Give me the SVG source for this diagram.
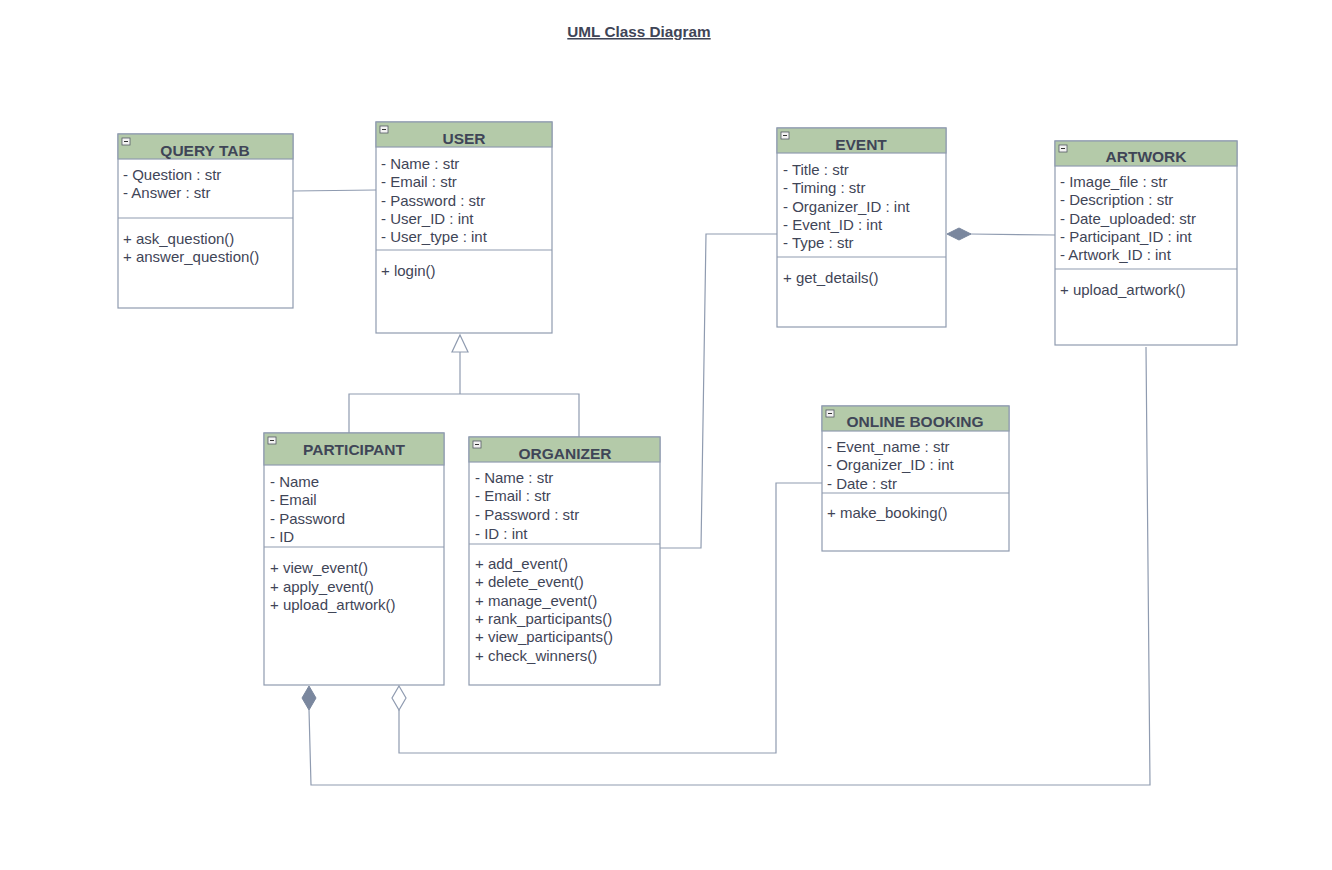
<svg xmlns="http://www.w3.org/2000/svg" width="1332" height="870" viewBox="0 0 1332 870">
  <style>
    .box { fill: #ffffff; stroke: #8f9bb0; stroke-width: 1.2; }
    .head { fill: #b4caa9; stroke: #8f9bb0; stroke-width: 1.2; }
    .sep { stroke: #8f9bb0; stroke-width: 1.2; }
    .icon { fill: #f2f2f2; stroke: #555b66; stroke-width: 0.8; }
    .iconbar { stroke: #333; stroke-width: 1; }
    .title { font-family: "Liberation Sans", Arial, sans-serif; font-size: 15.5px; font-weight: bold; fill: #3f4557; text-anchor: middle; }
    .txt { font-family: "Liberation Sans", Arial, sans-serif; font-size: 15px; fill: #3f4557; }
    .conn { fill: none; stroke: #8f9bb0; stroke-width: 1.2; }
    .dfill { fill: #7a879e; stroke: #7a879e; stroke-width: 1; }
    .dopen { fill: #ffffff; stroke: #8f9bb0; stroke-width: 1.2; }
    .doc { font-family: "Liberation Sans", Arial, sans-serif; font-size: 15.3px; font-weight: bold; fill: #3f4557; text-anchor: middle; text-decoration: underline; }
  </style>

  <rect width="1332" height="870" fill="#ffffff"/>

  <text class="doc" x="639" y="37">UML Class Diagram</text>

  <!-- Connectors -->
  <g id="connectors">
    <!-- QUERY TAB — USER association -->
    <line class="conn" x1="293" y1="191" x2="376" y2="190"/>
    <!-- generalization: PARTICIPANT / ORGANIZER → USER -->
    <polyline class="conn" points="349,433 349,394 579,394 579,437"/>
    <line class="conn" x1="460" y1="394" x2="460" y2="352"/>
    <polygon class="dopen" points="460,335 468,352 452,352"/>
    <!-- ORGANIZER — EVENT -->
    <polyline class="conn" points="660,548 701,548 706,234 777,234"/>
    <!-- EVENT ◆— ARTWORK -->
    <line class="conn" x1="970" y1="234" x2="1055" y2="235"/>
    <polygon class="dfill" points="947,234 959,228 971,234 959,240"/>
    <!-- ARTWORK — PARTICIPANT (composition) -->
    <polyline class="conn" points="1146,347 1150,785 311,785 309,710"/>
    <polygon class="dfill" points="309,686 316,698 309,710 302,698"/>
    <!-- ONLINE BOOKING — PARTICIPANT (aggregation) -->
    <polyline class="conn" points="822,483 776,483 776,753 399,753 399,710"/>
    <polygon class="dopen" points="399,686 406,698 399,710 392,698"/>
  </g>

  <!-- QUERY TAB -->
  <g id="querytab">
    <rect class="box" x="118" y="134" width="175" height="174"/>
    <rect class="head" x="118" y="134" width="175" height="25"/>
    <rect class="icon" x="122" y="138" width="8" height="7"/>
    <line class="iconbar" x1="124" y1="141.5" x2="128" y2="141.5"/>
    <text class="title" x="205" y="156">QUERY TAB</text>
    <text class="txt" x="123" y="180">- Question : str</text>
    <text class="txt" x="123" y="198">- Answer : str</text>
    <line class="sep" x1="118" y1="218" x2="293" y2="218"/>
    <text class="txt" x="123" y="244">+ ask_question()</text>
    <text class="txt" x="123" y="262">+ answer_question()</text>
  </g>

  <!-- USER -->
  <g id="user">
    <rect class="box" x="376" y="122" width="176" height="211"/>
    <rect class="head" x="376" y="122" width="176" height="25"/>
    <rect class="icon" x="380" y="126" width="8" height="7"/>
    <line class="iconbar" x1="382" y1="129.5" x2="386" y2="129.5"/>
    <text class="title" x="464" y="144">USER</text>
    <text class="txt" x="381" y="169">- Name : str</text>
    <text class="txt" x="381" y="187">- Email : str</text>
    <text class="txt" x="381" y="206">- Password : str</text>
    <text class="txt" x="381" y="224">- User_ID : int</text>
    <text class="txt" x="381" y="242">- User_type : int</text>
    <line class="sep" x1="376" y1="250" x2="552" y2="250"/>
    <text class="txt" x="381" y="276">+ login()</text>
  </g>

  <!-- PARTICIPANT -->
  <g id="participant">
    <rect class="box" x="264" y="433" width="180" height="252"/>
    <rect class="head" x="264" y="433" width="180" height="32"/>
    <rect class="icon" x="268" y="437" width="8" height="7"/>
    <line class="iconbar" x1="270" y1="440.5" x2="274" y2="440.5"/>
    <text class="title" x="354" y="455">PARTICIPANT</text>
    <text class="txt" x="270" y="487">- Name</text>
    <text class="txt" x="270" y="505">- Email</text>
    <text class="txt" x="270" y="524">- Password</text>
    <text class="txt" x="270" y="542">- ID</text>
    <line class="sep" x1="264" y1="547" x2="444" y2="547"/>
    <text class="txt" x="270" y="573">+ view_event()</text>
    <text class="txt" x="270" y="592">+ apply_event()</text>
    <text class="txt" x="270" y="610">+ upload_artwork()</text>
  </g>

  <!-- ORGANIZER -->
  <g id="organizer">
    <rect class="box" x="469" y="437" width="191" height="248"/>
    <rect class="head" x="469" y="437" width="191" height="25"/>
    <rect class="icon" x="473" y="441" width="8" height="7"/>
    <line class="iconbar" x1="475" y1="444.5" x2="479" y2="444.5"/>
    <text class="title" x="565" y="459">ORGANIZER</text>
    <text class="txt" x="475" y="483">- Name : str</text>
    <text class="txt" x="475" y="501">- Email : str</text>
    <text class="txt" x="475" y="520">- Password : str</text>
    <text class="txt" x="475" y="539">- ID : int</text>
    <line class="sep" x1="469" y1="544" x2="660" y2="544"/>
    <text class="txt" x="475" y="569">+ add_event()</text>
    <text class="txt" x="475" y="587">+ delete_event()</text>
    <text class="txt" x="475" y="606">+ manage_event()</text>
    <text class="txt" x="475" y="624">+ rank_participants()</text>
    <text class="txt" x="475" y="642">+ view_participants()</text>
    <text class="txt" x="475" y="661">+ check_winners()</text>
  </g>

  <!-- EVENT -->
  <g id="event">
    <rect class="box" x="777" y="128" width="169" height="199"/>
    <rect class="head" x="777" y="128" width="169" height="25"/>
    <rect class="icon" x="781" y="132" width="8" height="7"/>
    <line class="iconbar" x1="783" y1="135.5" x2="787" y2="135.5"/>
    <text class="title" x="861" y="150">EVENT</text>
    <text class="txt" x="783" y="175">- Title : str</text>
    <text class="txt" x="783" y="193">- Timing : str</text>
    <text class="txt" x="783" y="212">- Organizer_ID : int</text>
    <text class="txt" x="783" y="230">- Event_ID : int</text>
    <text class="txt" x="783" y="248">- Type : str</text>
    <line class="sep" x1="777" y1="257" x2="946" y2="257"/>
    <text class="txt" x="783" y="283">+ get_details()</text>
  </g>

  <!-- ARTWORK -->
  <g id="artwork">
    <rect class="box" x="1055" y="141" width="182" height="204"/>
    <rect class="head" x="1055" y="141" width="182" height="25"/>
    <rect class="icon" x="1059" y="145" width="8" height="7"/>
    <line class="iconbar" x1="1061" y1="148.5" x2="1065" y2="148.5"/>
    <text class="title" x="1146" y="162">ARTWORK</text>
    <text class="txt" x="1060" y="187">- Image_file : str</text>
    <text class="txt" x="1060" y="205">- Description : str</text>
    <text class="txt" x="1060" y="224">- Date_uploaded: str</text>
    <text class="txt" x="1060" y="242">- Participant_ID : int</text>
    <text class="txt" x="1060" y="260">- Artwork_ID : int</text>
    <line class="sep" x1="1055" y1="269" x2="1237" y2="269"/>
    <text class="txt" x="1060" y="295">+ upload_artwork()</text>
  </g>

  <!-- ONLINE BOOKING -->
  <g id="onlinebooking">
    <rect class="box" x="822" y="406" width="187" height="145"/>
    <rect class="head" x="822" y="406" width="187" height="25"/>
    <rect class="icon" x="826" y="410" width="8" height="7"/>
    <line class="iconbar" x1="828" y1="413.5" x2="832" y2="413.5"/>
    <text class="title" x="915" y="427">ONLINE BOOKING</text>
    <text class="txt" x="827" y="452">- Event_name : str</text>
    <text class="txt" x="827" y="470">- Organizer_ID : int</text>
    <text class="txt" x="827" y="489">- Date : str</text>
    <line class="sep" x1="822" y1="493" x2="1009" y2="493"/>
    <text class="txt" x="827" y="518">+ make_booking()</text>
  </g>
</svg>
